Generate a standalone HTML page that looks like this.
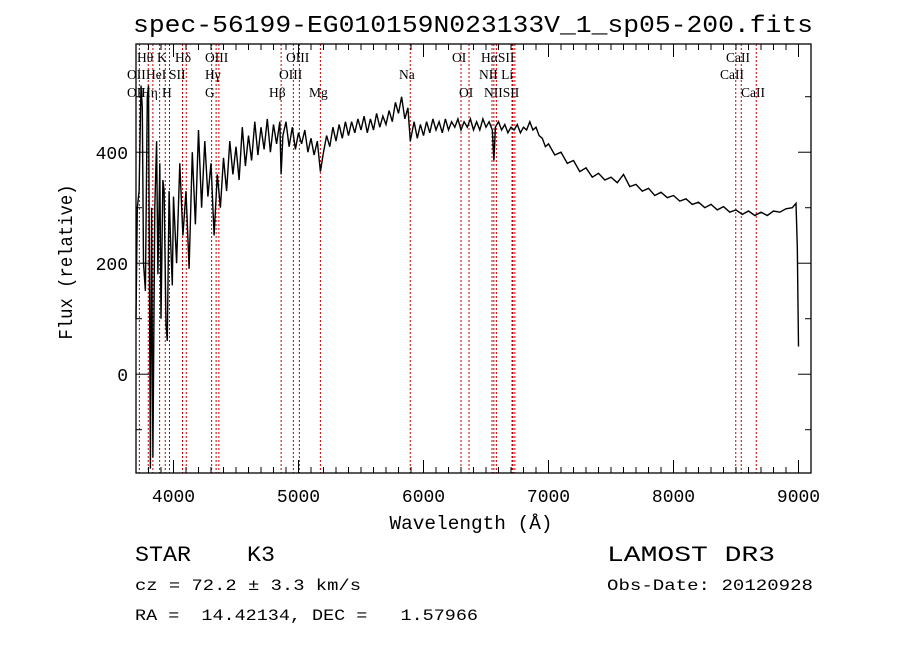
<!DOCTYPE html>
<html><head><meta charset="utf-8"><style>
html,body{margin:0;padding:0;background:#fff;}
svg{display:block;}
text{font-family:"Liberation Serif",serif;fill:#000;white-space:pre;}
.mono{font-family:"Liberation Mono",monospace;}
</style></head><body>
<svg id="chart" width="900" height="649" viewBox="0 0 900 649" xmlns="http://www.w3.org/2000/svg" xml:space="preserve">
<rect width="900" height="649" fill="#fff"/>
<text x="133" y="32" font-size="24" textLength="680" lengthAdjust="spacingAndGlyphs" class="mono">spec-56199-EG010159N023133V_1_sp05-200.fits</text>
<g id="lines"></g>
<g id="series"></g>
<g id="axes"></g>
<g id="labels" font-size="13.5">
<text x="137" y="62">Hθ</text><text x="157" y="62">K</text><text x="175" y="62">Hδ</text><text x="205" y="62">OIII</text><text x="286" y="62">OIII</text>
<text x="452" y="62">OI</text><text x="481" y="62">HαSII</text><text x="726" y="62">CaII</text>
<text x="127" y="79">OII</text><text x="146" y="79">HeI</text><text x="169" y="79">SII</text><text x="205" y="79">Hγ</text><text x="279" y="79">OIII</text>
<text x="399" y="79">Na</text><text x="479" y="79">NII Li</text><text x="720" y="79">CaII</text>
<text x="127" y="97">OII</text><text x="141" y="97">Hη</text><text x="162" y="97">H</text><text x="205" y="97">G</text><text x="269" y="97">Hβ</text><text x="309" y="97">Mg</text>
<text x="459" y="97">OI</text><text x="484" y="97">NIISII</text><text x="741" y="97">CaII</text>
</g>
<text x="471" y="529" font-size="19" text-anchor="middle" class="mono" textLength="163" lengthAdjust="spacingAndGlyphs">Wavelength (Å)</text>
<text transform="translate(72,262) rotate(-90)" font-size="19" text-anchor="middle" class="mono" textLength="155" lengthAdjust="spacingAndGlyphs">Flux (relative)</text>
<text x="135" y="561" font-size="22" class="mono" textLength="140" lengthAdjust="spacingAndGlyphs">STAR    K3</text>
<text x="607" y="561" font-size="22" class="mono" textLength="168" lengthAdjust="spacingAndGlyphs">LAMOST DR3</text>
<text x="135" y="590" font-size="16" class="mono" textLength="226" lengthAdjust="spacingAndGlyphs">cz = 72.2 ± 3.3 km/s</text>
<text x="607" y="590" font-size="16" class="mono" textLength="206" lengthAdjust="spacingAndGlyphs">Obs-Date: 20120928</text>
<text x="135" y="620" font-size="16" class="mono" textLength="343" lengthAdjust="spacingAndGlyphs">RA =  14.42134, DEC =   1.57966</text>
</svg>
<script>
const wavelengths = [3700,3710,3725,3740,3750,3760,3775,3790,3800,3815,3825,3835,3850,3865,3875,3890,3900,3915,3925,3940,3950,3965,3975,3990,4000,4025,4050,4075,4100,4125,4150,4175,4200,4225,4250,4275,4300,4325,4350,4375,
4400,4425,4450,4475,4500,4525,4550,4575,4600,4625,4650,4675,4700,4725,4750,4775,4800,4825,4850,4861,4875,4900,4925,4950,4975,5000,5025,5050,5075,5100,5125,5150,5175,5200,5225,5250,5275,5300,5325,5350,5375,5400,5425,5450,5475,5500,5525,5550,5575,5600,5625,5650,5675,5700,5725,5750,5775,5800,5825,5850,5875,5894,5925,5950,5975,
6000,6025,6050,6075,6100,6125,6150,6175,6200,6225,6250,6275,6300,6325,6350,6375,6400,6425,6450,6475,6500,6525,6550,6563,6575,6600,6625,6650,6675,6700,6725,6750,6775,6800,6825,6850,6875,6900,6925,6950,6975,7000,
7050,7100,7150,7200,7250,7300,7350,7400,7450,7500,7550,7600,7650,7700,7750,7800,7850,7900,7950,8000,8050,8100,8150,8200,8250,8300,8350,8400,8450,8500,8550,8600,8650,8700,8750,8800,8850,8900,8950,8980,8990,9000];
const fluxValues = [100,300,330,520,480,200,150,500,520,-170,300,-150,300,420,180,380,100,350,330,90,60,330,250,160,320,200,380,250,330,190,400,270,440,300,420,320,380,250,360,300,
390,330,420,360,410,350,445,375,430,385,455,395,445,405,460,400,450,415,455,360,430,455,410,445,405,435,415,440,400,425,395,420,365,400,430,410,445,420,450,425,455,430,455,435,460,440,465,435,460,440,470,445,465,450,475,455,490,470,500,460,480,420,455,425,450,
430,455,435,460,440,455,435,460,440,455,445,460,440,455,445,460,440,455,440,460,445,455,440,385,445,455,440,450,435,445,440,450,435,445,440,455,440,445,430,425,410,415,
395,400,380,385,365,372,355,362,350,355,345,360,338,342,330,335,322,328,318,322,312,316,306,310,300,306,296,302,292,296,288,294,286,292,286,294,292,298,300,308,230,50];
const lineWavelengths = [3727,3798,3835,3889,3934,3968,4072,4102,4305,4341,4363,4861,4959,5007,5175,5894,6300,6364,6548,6563,6583,6708,6716,6731,8498,8542,8662];
const xTickLabels = [4000,5000,6000,7000,8000,9000];
const yTickLabels = [0,200,400];
const NS="http://www.w3.org/2000/svg";
const L=136,R=811,T=44,B=473,XMIN=3700,XMAX=9100,YMIN=-178,YMAX=595;
function xs(w){return L+(w-XMIN)/(XMAX-XMIN)*(R-L);}
function ys(v){return B-(v-YMIN)/(YMAX-YMIN)*(B-T);}
function mk(tag,attrs,parent){const e=document.createElementNS(NS,tag);for(const k in attrs)e.setAttribute(k,attrs[k]);parent.appendChild(e);return e;}
const gl=document.getElementById('lines');
lineWavelengths.forEach(w=>{
  const l=mk('line',{x1:xs(w),x2:xs(w),y1:T,y2:B,stroke:'#c00000','stroke-width':1,'stroke-dasharray':'2,2'},gl);
  
  
});
const gs=document.getElementById('series');
let d='';
wavelengths.forEach((w,i)=>{d+=(i?'L':'M')+xs(w).toFixed(1)+','+ys(fluxValues[i]).toFixed(1);});
const p=mk('path',{d:d,fill:'none',stroke:'#000','stroke-width':1.4,'stroke-linejoin':'miter'},gs);


const ga=document.getElementById('axes');
const fr=mk('rect',{x:L,y:T,width:R-L,height:B-T,fill:'none',stroke:'#000','stroke-width':1.3},ga);


for(let w=XMIN;w<=XMAX;w+=100){
  const major=w%1000===0,len=major?13:6,x=xs(w);
  mk('line',{x1:x,x2:x,y1:B,y2:B-len,stroke:'#000','stroke-width':1},ga);
  mk('line',{x1:x,x2:x,y1:T,y2:T+len,stroke:'#000','stroke-width':1},ga);
}
for(let v=-100;v<=YMAX;v+=100){
  const major=v%200===0,len=major?13:6,y=ys(v);
  mk('line',{x1:L,x2:L+len,y1:y,y2:y,stroke:'#000','stroke-width':1},ga);
  mk('line',{x1:R,x2:R-len,y1:y,y2:y,stroke:'#000','stroke-width':1},ga);
}
xTickLabels.forEach(w=>{
  const t=mk('text',{x:xs(w),y:502,'font-size':18,'text-anchor':'middle',class:'mono'},ga);
  t.textContent=w;
  
  
});
yTickLabels.forEach(v=>{
  const t=mk('text',{x:128,y:ys(v)+7,'font-size':18,'text-anchor':'end',class:'mono'},ga);
  t.textContent=v;
  
  
});
</script>
</body></html>
